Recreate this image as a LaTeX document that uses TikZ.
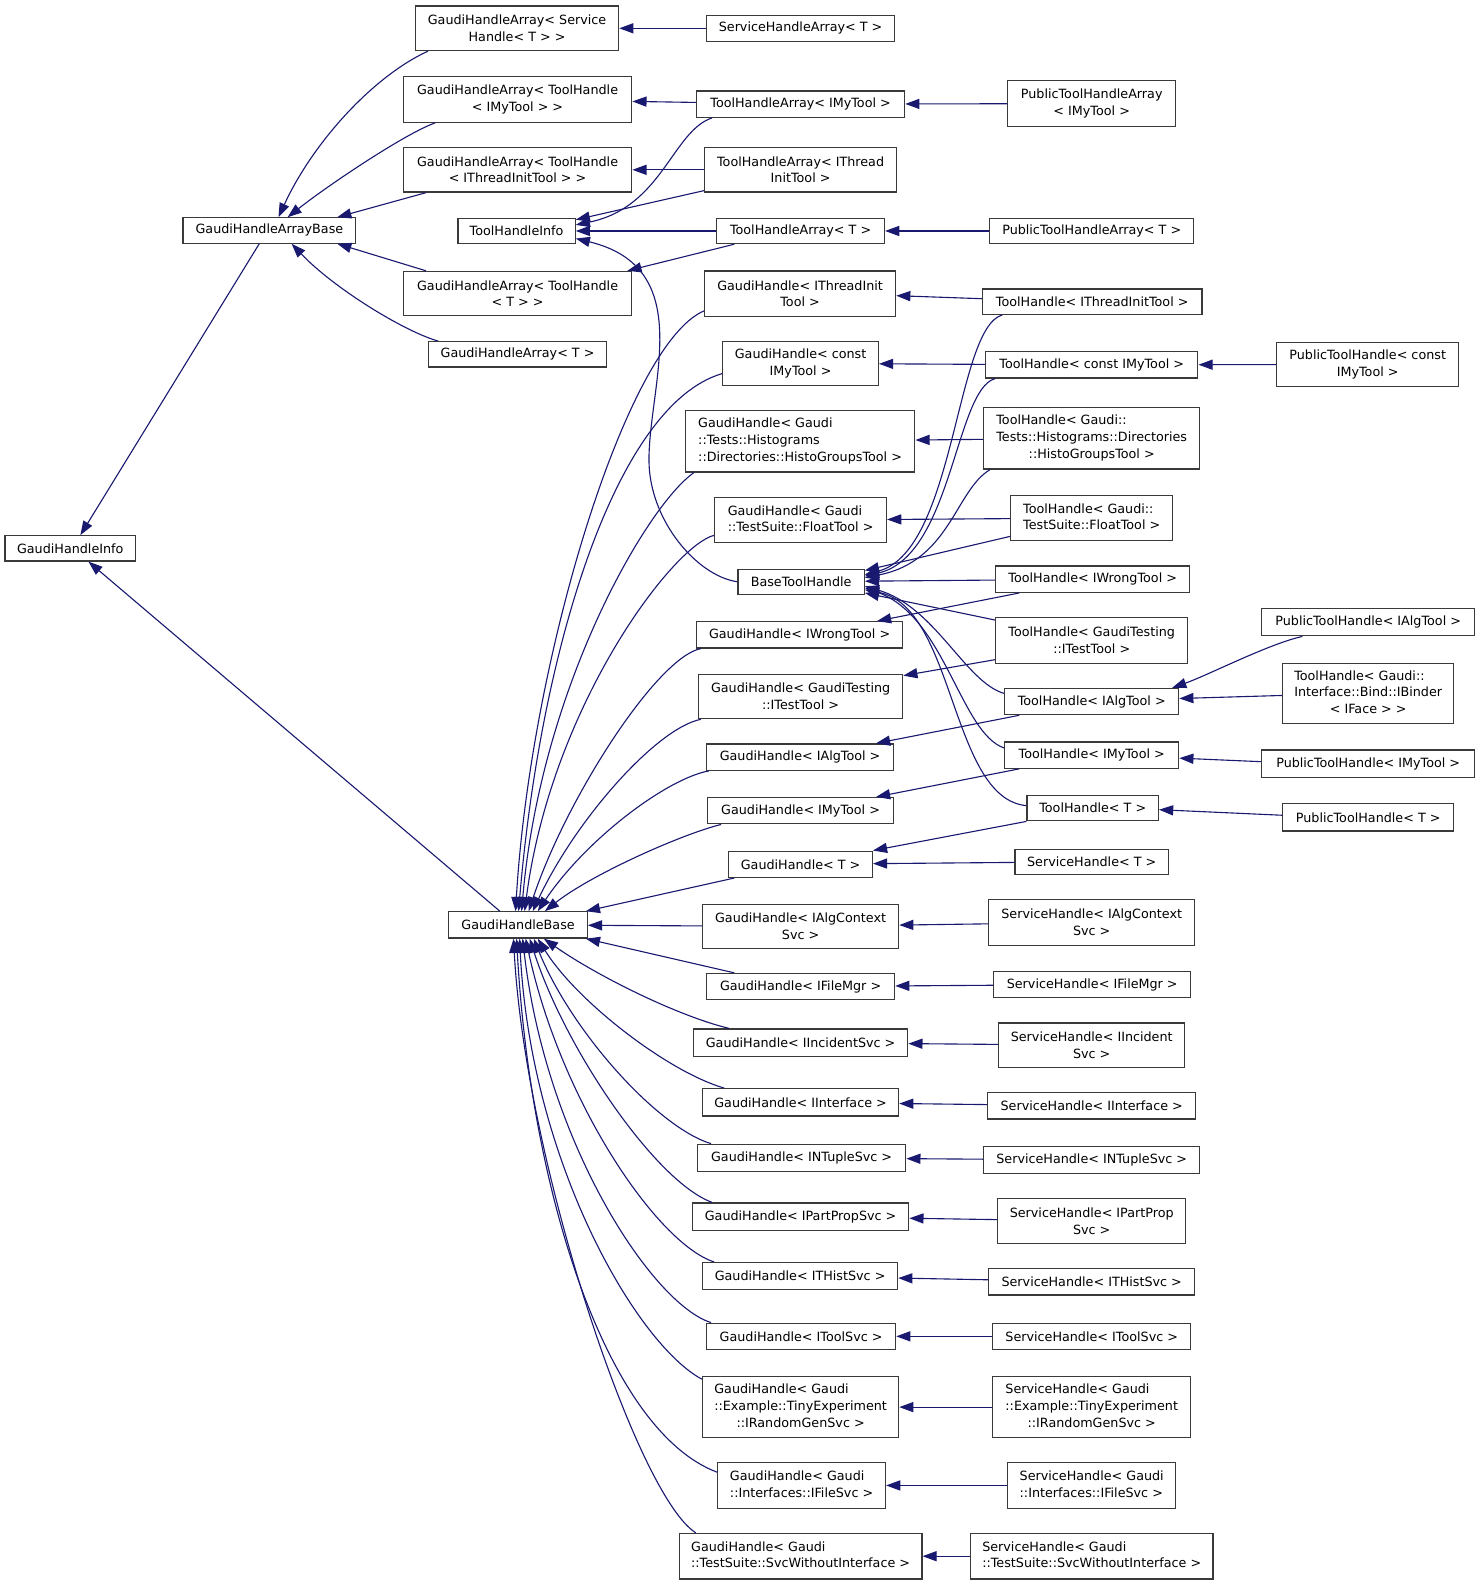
\documentclass[tikz,border=0pt]{standalone}
\usepackage{fontspec}
\setmainfont{DejaVu Sans}
\usetikzlibrary{arrows.meta}
\definecolor{nodeborder}{HTML}{3A3A3A}
\definecolor{edgecol}{HTML}{191970}
\newcommand{\mylines}[1]{\begin{tabular}{@{}l@{}}#1\end{tabular}}
\newcommand{\mycen}[1]{\multicolumn{1}{@{}c@{}}{#1}}
\begin{document}
\begin{tikzpicture}[x=1pt,y=-1pt,
  nd/.style 2 args={draw=nodeborder, line width=1.2pt, fill=white, inner sep=0pt,
    minimum width=#1, minimum height=#2, align=center,
    font=\fontsize{12.6}{16.5}\selectfont},
  edge/.style={draw=edgecol, line width=1.1pt, -{Triangle[length=14pt,width=10pt]}}]
\useasboundingbox (0,0) rectangle (1465,1568);

% column 1
\node[nd={129}{25}] (ghi) at (69.5,542.5) {GaudiHandleInfo};
\node[nd={171}{25}] (ghab) at (266.5,228) {GaudiHandleArrayBase};
\node[nd={137}{26}] (ghb) at (512.5,915) {GaudiHandleBase};

% column 2
\node[nd={201}{44}] (ghaSH) at (511.5,28) {GaudiHandleArray< Service\\Handle< T > >};
\node[nd={226}{45}] (ghaTHmy) at (512,98.5) {GaudiHandleArray< ToolHandle\\< IMyTool > >};
\node[nd={226}{44}] (ghaTHti) at (512,168) {GaudiHandleArray< ToolHandle\\< IThreadInitTool > >};
\node[nd={116}{25}] (thi) at (511,228.5) {ToolHandleInfo};
\node[nd={226}{44}] (ghaTHT) at (512,290.5) {GaudiHandleArray< ToolHandle\\< T > >};
\node[nd={176}{25}] (ghaT) at (512,350.5) {GaudiHandleArray< T >};

% column 3
\node[nd={186}{26}] (shaT) at (792,28) {ServiceHandleArray< T >};
\node[nd={206}{26}] (thaMy) at (792,103) {ToolHandleArray< IMyTool >};
\node[nd={190}{44}] (thaTI) at (792,168) {ToolHandleArray< IThread\\InitTool >};
\node[nd={166}{25}] (thaT) at (792,228.5) {ToolHandleArray< T >};
\node[nd={189}{45}] (ghTI) at (791.5,290.5) {GaudiHandle< IThreadInit\\Tool >};
\node[nd={154}{43}] (ghCMy) at (792,359.5) {GaudiHandle< const\\IMyTool >};
\node[nd={227}{61}] (ghHisto) at (791.5,436.5) {\mylines{GaudiHandle< Gaudi\\::Tests::Histograms\\::Directories::HistoGroupsTool >}};
\node[nd={170}{45}] (ghFloat) at (792,514.5) {\mylines{GaudiHandle< Gaudi\\::TestSuite::FloatTool >}};
\node[nd={125}{25}] (bth) at (792.5,575.5) {BaseToolHandle};
\node[nd={204}{26}] (ghWrong) at (791,628) {GaudiHandle< IWrongTool >};
\node[nd={202}{44}] (ghTest) at (792,689) {GaudiHandle< GaudiTesting\\::ITestTool >};
\node[nd={185}{26}] (ghAlg) at (791.5,749) {GaudiHandle< IAlgTool >};
\node[nd={184}{26}] (ghMy) at (792,802) {GaudiHandle< IMyTool >};
\node[nd={142}{26}] (ghT) at (792,855) {GaudiHandle< T >};
\node[nd={194}{43}] (ghAlgCtx) at (792,916.5) {GaudiHandle< IAlgContext\\Svc >};
\node[nd={186}{26}] (ghFile) at (792,976) {GaudiHandle< IFileMgr >};
\node[nd={212}{27}] (ghInc) at (792,1031.5) {GaudiHandle< IIncidentSvc >};
\node[nd={194}{27}] (ghIf) at (792,1090.5) {GaudiHandle< IInterface >};
\node[nd={206}{27}] (ghNT) at (793,1145.5) {GaudiHandle< INTupleSvc >};
\node[nd={214}{27}] (ghPP) at (792,1203.5) {GaudiHandle< IPartPropSvc >};
\node[nd={193}{27}] (ghTH) at (791.5,1262.5) {GaudiHandle< ITHistSvc >};
\node[nd={187}{26}] (ghTS) at (792.5,1322) {GaudiHandle< IToolSvc >};
\node[nd={194}{60}] (ghRnd) at (792,1392) {\mylines{GaudiHandle< Gaudi\\::Example::TinyExperiment\\\mycen{::IRandomGenSvc >}}};
\node[nd={166}{45}] (ghFS) at (793,1469.5) {\mylines{GaudiHandle< Gaudi\\::Interfaces::IFileSvc >}};
\node[nd={240}{45}] (ghSWI) at (792,1539.5) {\mylines{GaudiHandle< Gaudi\\::TestSuite::SvcWithoutInterface >}};

% column 4
\node[nd={166}{45}] (pthaMy) at (1080,102.5) {PublicToolHandleArray\\< IMyTool >};
\node[nd={202}{25}] (pthaT) at (1080,228.5) {PublicToolHandleArray< T >};
\node[nd={217}{25}] (thTI) at (1080.5,298.5) {ToolHandle< IThreadInitTool >};
\node[nd={210}{26}] (thCMy) at (1080,361) {ToolHandle< const IMyTool >};
\node[nd={214}{61}] (thHisto) at (1080,433.5) {\mylines{ToolHandle< Gaudi::\\Tests::Histograms::Directories\\\mycen{::HistoGroupsTool >}}};
\node[nd={160}{45}] (thFloat) at (1080,512.5) {\mylines{ToolHandle< Gaudi::\\TestSuite::FloatTool >}};
\node[nd={192}{26}] (thWrong) at (1081,573) {ToolHandle< IWrongTool >};
\node[nd={190}{45}] (thTest) at (1080,633.5) {ToolHandle< GaudiTesting\\::ITestTool >};
\node[nd={172}{26}] (thAlg) at (1080,694) {ToolHandle< IAlgTool >};
\node[nd={172}{26}] (thMy) at (1080,747) {ToolHandle< IMyTool >};
\node[nd={130}{25}] (thT) at (1081,799.5) {ToolHandle< T >};
\node[nd={152}{25}] (shT) at (1080,852.5) {ServiceHandle< T >};
\node[nd={204}{45}] (shAlgCtx) at (1080,912.5) {ServiceHandle< IAlgContext\\Svc >};
\node[nd={195}{26}] (shFile) at (1080.5,974) {ServiceHandle< IFileMgr >};
\node[nd={184}{44}] (shInc) at (1080,1034) {ServiceHandle< IIncident\\Svc >};
\node[nd={206}{26}] (shIf) at (1080,1094) {ServiceHandle< IInterface >};
\node[nd={214}{27}] (shNT) at (1080,1147.5) {ServiceHandle< INTupleSvc >};
\node[nd={186}{44}] (shPP) at (1080,1208) {ServiceHandle< IPartProp\\Svc >};
\node[nd={204}{26}] (shTH) at (1080,1268) {ServiceHandle< ITHistSvc >};
\node[nd={196}{26}] (shTS) at (1080,1322) {ServiceHandle< IToolSvc >};
\node[nd={196}{60}] (shRnd) at (1080,1392) {\mylines{ServiceHandle< Gaudi\\::Example::TinyExperiment\\\mycen{::IRandomGenSvc >}}};
\node[nd={166}{45}] (shFS) at (1080,1469.5) {\mylines{ServiceHandle< Gaudi\\::Interfaces::IFileSvc >}};
\node[nd={240}{45}] (shSWI) at (1080,1539.5) {\mylines{ServiceHandle< Gaudi\\::TestSuite::SvcWithoutInterface >}};

% column 5
\node[nd={180}{43}] (pthCMy) at (1353,360.5) {PublicToolHandle< const\\IMyTool >};
\node[nd={211}{27}] (pthAlg) at (1353.5,615.5) {PublicToolHandle< IAlgTool >};
\node[nd={169}{60}] (thBind) at (1353.5,686) {\mylines{ToolHandle< Gaudi::\\Interface::Bind::IBinder\\\mycen{< IFace > >}}};
\node[nd={211}{27}] (pthMy) at (1353.5,755.5) {PublicToolHandle< IMyTool >};
\node[nd={169}{27}] (pthT) at (1353.5,808.5) {PublicToolHandle< T >};

% ---- edges ----
\draw[edge] ([xshift=-10]ghab.south) -- ([xshift=10]ghi.north);
\draw[edge] ([xshift=-18]ghb.north) -- ([xshift=18]ghi.south);

\draw[edge] ([xshift=13]ghaSH.south west) .. controls (370,75) and (310,140) .. ([xshift=9]ghab.north);
\draw[edge] ([xshift=32]ghaTHmy.south west) .. controls (401,132) and (325,183) .. ([xshift=18]ghab.north);
\draw[edge] ([xshift=23]ghaTHti.south west) -- ([xshift=-19]ghab.north east);
\draw[edge] ([xshift=23]ghaTHT.north west) -- ([xshift=-19]ghab.south east);
\draw[edge] ([xshift=10]ghaT.north west) .. controls (400,328) and (330,285) .. ([xshift=22]ghab.south);

\draw[edge] (shaT) -- (ghaSH);
\draw[edge] (thaMy) -- (ghaTHmy);
\draw[edge] (thaTI) -- (ghaTHti);
\draw[edge] (thaT) -- (thi);
\draw[edge] ([xshift=16]thaMy.south west) .. controls (665,130) and (655,205) .. ([yshift=6]thi.east);
\draw[edge] ([yshift=2]thaTI.south west) -- ([yshift=-2]thi.north east);
\draw[edge] ([xshift=18]thaT.south west) -- ([xshift=-5]ghaTHT.north east);
\draw[edge] (pthaMy) -- (thaMy);
\draw[edge] (pthaT) -- (thaT);
\draw[edge] (bth.west) .. controls (690,570) and (642,515) .. (642,455)
  .. controls (642,380) and (690,265) .. ([yshift=-7.5]thi.east);

\draw[edge] ([yshift=3]thTI.west) -- ([yshift=-2]ghTI.east);
\draw[edge] (thCMy) -- (ghCMy);
\draw[edge] (pthCMy) -- (thCMy);
\draw[edge] (thHisto) -- (ghHisto);
\draw[edge] (thFloat) -- (ghFloat);
\draw[edge] (thWrong) -- (bth);
\draw[edge] ([xshift=20]thTI.south west) .. controls (945,325) and (945,545) .. ([yshift=7]bth.east);
\draw[edge] ([xshift=10]thCMy.south west) .. controls (945,385) and (942,550) .. ([yshift=5.5]bth.east);
\draw[edge] ([xshift=7]thHisto.south west) .. controls (945,485) and (940,555) .. ([yshift=4]bth.east);
\draw[edge] ([yshift=5]thFloat.south west) -- ([yshift=-2]bth.north east);
\draw[edge] ([yshift=-3]thTest.north west) -- ([yshift=2]bth.south east);
\draw[edge] ([yshift=8]thAlg.west) .. controls (955,675) and (925,600) .. ([yshift=-4.5]bth.east);
\draw[edge] ([yshift=7]thMy.west) .. controls (950,725) and (935,610) .. ([yshift=-6]bth.east);
\draw[edge] ([yshift=2.5]thT.west) .. controls (940,790) and (945,600) .. ([yshift=-8]bth.east);

\draw[edge] ([xshift=24]thWrong.south west) -- ([xshift=-26]ghWrong.north east);
\draw[edge] ([yshift=4]thTest.south west) -- ([yshift=-2]ghTest.north east);
\draw[edge] ([xshift=15]thAlg.south west) -- ([xshift=-18]ghAlg.north east);
\draw[edge] ([xshift=15]thMy.south west) -- ([xshift=-18]ghMy.north east);
\draw[edge] (thT.south west) -- (ghT.north east);
\draw[edge] (shT) -- (ghT);

\draw[edge] ([xshift=41]pthAlg.south west) .. controls (1255,637) and (1195,668) .. ([xshift=-7]thAlg.north east);
\draw[edge] ([yshift=-2]thBind.west) -- ([yshift=3]thAlg.east);
\draw[edge] ([yshift=2]pthMy.west) -- ([yshift=-3]thMy.east);
\draw[edge] ([yshift=2]pthT.west) -- ([yshift=-1.5]thT.east);

\draw[edge] (shAlgCtx) -- (ghAlgCtx);
\draw[edge] (shFile) -- (ghFile);
\draw[edge] (shInc) -- (ghInc);
\draw[edge] (shIf) -- (ghIf);
\draw[edge] (shNT) -- (ghNT);
\draw[edge] (shPP) -- (ghPP);
\draw[edge] (shTH) -- (ghTH);
\draw[edge] (shTS) -- (ghTS);
\draw[edge] (shRnd) -- (ghRnd);
\draw[edge] (shFS) -- (ghFS);
\draw[edge] (shSWI) -- (ghSWI);

% GaudiHandle< X > -> GaudiHandleBase
\draw[edge] ([yshift=6]ghTI.south west) .. controls (620,340) and (525,650) .. ([xshift=-2.5]ghb.north);
\draw[edge] ([yshift=12]ghCMy.south west) .. controls (610,400) and (535,640) .. ([xshift=0.5]ghb.north);
\draw[edge] ([xshift=9]ghHisto.south west) .. controls (640,500) and (535,680) .. ([xshift=3.5]ghb.north);
\draw[edge] ([yshift=8]ghFloat.south west) .. controls (665,540) and (545,700) .. ([xshift=6.5]ghb.north);
\draw[edge] ([xshift=5]ghWrong.south west) .. controls (650,650) and (560,790) .. ([xshift=10.5]ghb.north);
\draw[edge] ([xshift=3]ghTest.south west) .. controls (650,720) and (570,810) .. ([xshift=14.5]ghb.north);
\draw[edge] ([xshift=3]ghAlg.south west) .. controls (660,770) and (580,830) .. ([xshift=19.5]ghb.north);
\draw[edge] ([xshift=14]ghMy.south west) .. controls (675,825) and (585,865) .. ([xshift=26.5]ghb.north);
\draw[edge] ([xshift=6]ghT.south west) -- ([xshift=-2]ghb.north east);
\draw[edge] (ghAlgCtx) -- (ghb);
\draw[edge] ([xshift=28]ghFile.north west) -- ([xshift=-2]ghb.south east);
\draw[edge] ([xshift=36]ghInc.north west) .. controls (670,1005) and (590,965) .. ([xshift=25.5]ghb.south);
\draw[edge] ([xshift=22]ghIf.north west) .. controls (660,1060) and (570,990) .. ([xshift=19.5]ghb.south);
\draw[edge] ([xshift=14]ghNT.north west) .. controls (650,1115) and (565,1020) .. ([xshift=15.5]ghb.south);
\draw[edge] ([xshift=20]ghPP.north west) .. controls (650,1170) and (560,1040) .. ([xshift=11.5]ghb.south);
\draw[edge] ([xshift=12]ghTH.north west) .. controls (650,1230) and (555,1090) .. ([xshift=7.5]ghb.south);
\draw[edge] ([xshift=5]ghTS.north west) .. controls (645,1290) and (540,1130) .. ([xshift=4.5]ghb.south);
\draw[edge] ([yshift=-3]ghRnd.north west) .. controls (630,1330) and (525,1150) .. ([xshift=1.5]ghb.south);
\draw[edge] ([yshift=-10]ghFS.north west) .. controls (600,1415) and (525,1180) .. ([xshift=-1.5]ghb.south);
\draw[edge] ([xshift=17]ghSWI.north west) .. controls (630,1480) and (520,1150) .. ([xshift=-4.5]ghb.south);
\end{tikzpicture}
\end{document}
